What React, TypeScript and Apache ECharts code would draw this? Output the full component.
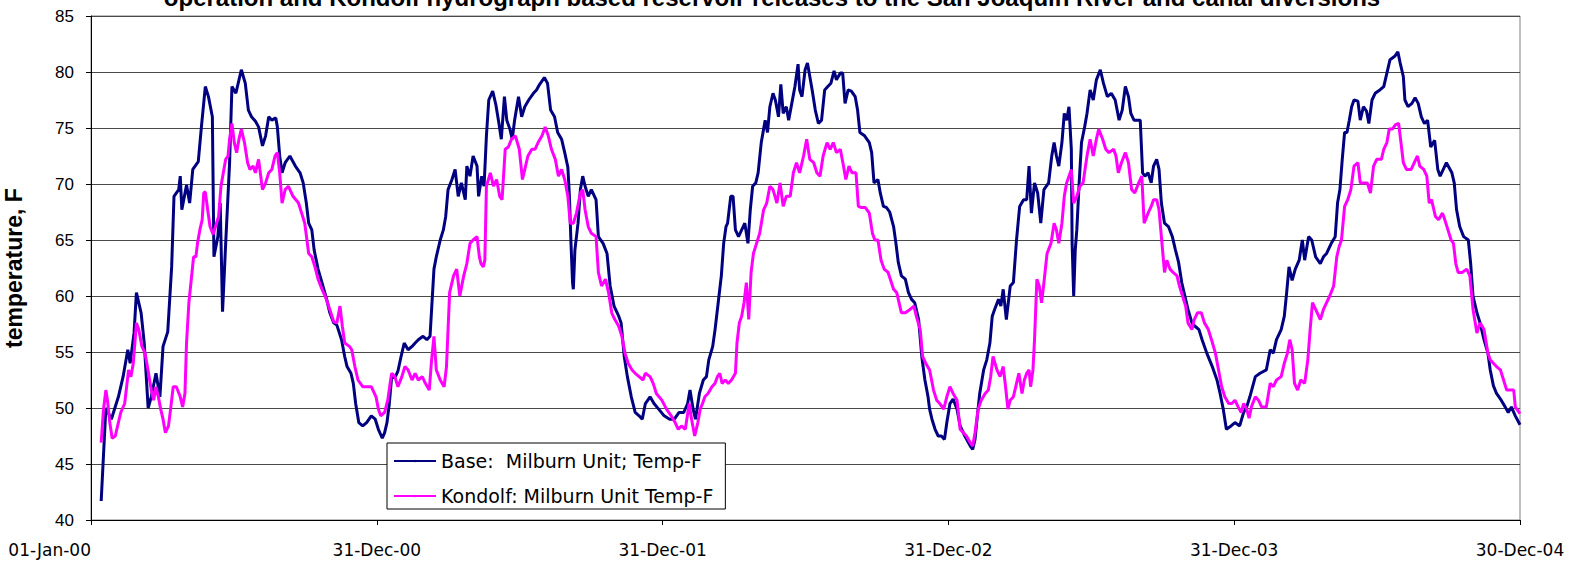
import React, { useEffect, useRef } from "react";
import * as echarts from "echarts";

const titleText =
  "operation and Kondolf hydrograph based reservoir releases to the San Joaquin River and canal diversions";
const yAxisName = "temperature, F";
const tickLabels = ["01-Jan-00", "31-Dec-00", "31-Dec-01", "31-Dec-02", "31-Dec-03", "30-Dec-04"];
const daysPerTick = 365;
const seriesNames = ["Base:  Milburn Unit; Temp-F", "Kondolf: Milburn Unit Temp-F"];

// [days since 01-Jan-00, temperature F]
const baseObs: number[][] = [
  [13,41.7],[19,50.0],[26,49.0],[35,51.0],[41,52.8],[47,55.2],[50,54.0],[55,56.7],[58,60.3],[64,58.5],[68,55.8],[73,50.0],[77,51.0],[83,53.1],[88,51.0],[92,55.5],[98,56.8],[103,62.6],[106,68.9],[112,69.5],[114,70.7],[116,67.7],[122,69.9],[126,68.3],[130,71.3],[137,72.0],[141,75.1],[146,78.7],[150,77.8],[155,76.0],[157,63.5],[162,65.3],[165,68.3],[168,58.6],[172,64.7],[177,71.9],[180,78.7],[185,78.1],[189,79.3],[192,80.2],[197,79.0],
  [201,76.6],[205,76.0],[210,75.6],[214,75.1],[219,73.4],[223,74.3],[227,76.0],[231,75.7],[236,75.9],[238,75.1],[241,72.5],[244,71.0],[248,71.9],[254,72.5],[261,71.6],[267,71.0],[271,70.1],[275,68.3],[278,66.5],[282,65.9],[285,64.1],[290,62.4],[295,61.2],[301,59.7],[305,58.5],[310,57.6],[314,57.4],[320,56.1],[324,54.6],[327,53.7],[332,53.1],[335,52.2],[338,50.4],[342,48.7],[347,48.4],[352,48.7],[358,49.3],[363,49.0],[367,48.1],[372,47.3],[375,47.8],[378,48.7],[381,50.4],[384,52.8],[388,52.7],[392,53.3],[396,54.6],[400,55.8],
  [405,55.2],[410,55.5],[414,55.8],[418,56.1],[424,56.4],[429,56.1],[433,56.4],[435,58.8],[438,62.4],[441,63.5],[446,65.0],[450,65.9],[453,67.1],[456,69.5],[461,70.4],[465,71.3],[469,68.9],[473,70.1],[478,68.6],[480,71.6],[484,70.7],[488,72.5],[493,71.6],[495,68.9],[499,70.7],[502,69.8],[505,74.3],[508,77.5],[513,78.3],[517,77.1],[521,75.4],[524,74.0],[528,77.8],[531,75.7],[535,74.9],[538,74.0],[541,75.7],[546,77.8],[550,76.0],[554,76.9],[559,77.5],[565,78.1],[569,78.4],[573,78.9],[579,79.5],[583,79.0],[587,76.6],[592,76.0],[596,74.6],[601,74.0],[605,72.8],
  [609,71.5],[611,68.9],[613,64.7],[615,61.2],[616,60.6],[618,64.1],[622,66.5],[625,69.5],[628,70.7],[631,69.8],[635,68.9],[639,69.5],[645,68.6],[648,65.3],[654,64.7],[659,63.8],[663,60.9],[668,59.1],[674,58.2],[677,57.6],[681,54.6],[685,52.8],[690,51.0],[695,49.6],[700,49.3],[704,49.0],[708,50.4],[714,51.0],[719,50.4],[725,49.9],[732,49.3],[739,49.0],[745,49.0],[751,49.6],[757,49.6],[762,50.4],[765,51.6],[769,49.9],[772,49.0],[777,51.3],[782,52.5],[786,52.8],[789,54.3],[794,55.5],[797,57.0],[801,59.4],[805,61.8],[808,64.7],[811,66.2],
  [813,66.5],[817,68.9],[820,68.9],[823,65.9],[827,65.3],[831,65.9],[835,66.5],[839,64.7],[842,67.7],[845,69.8],[849,70.1],[852,71.0],[856,73.7],[859,74.9],[861,75.7],[864,74.6],[867,76.9],[871,78.1],[874,77.5],[878,76.0],[881,78.9],[884,76.3],[888,76.9],[891,75.7],[895,77.2],[899,78.7],[903,80.7],[905,78.4],[908,77.8],[912,80.2],[915,80.8],[918,79.6],[921,78.4],[925,76.6],[929,75.4],[933,75.7],[937,78.4],[941,78.7],[945,79.0],[949,80.1],[952,79.3],[957,79.9],[960,79.9],[963,77.2],[967,78.4],[971,78.3],[976,77.8],[979,76.6],[982,74.6],[988,74.3],[994,73.7],[997,72.8],[1000,70.1],[1005,70.4],[1008,69.2],[1012,68.0],
  [1016,67.9],[1020,67.5],[1025,66.2],[1028,64.7],[1031,63.0],[1035,61.8],[1040,61.5],[1044,60.3],[1048,59.7],[1052,59.4],[1057,57.9],[1061,54.6],[1065,52.5],[1069,51.0],[1071,49.9],[1074,49.0],[1078,48.1],[1082,47.5],[1086,47.5],[1090,47.2],[1093,48.7],[1097,50.4],[1101,50.8],[1106,49.9],[1110,48.4],[1116,47.5],[1123,46.6],[1126,46.3],[1129,47.2],[1132,49.3],[1135,51.3],[1140,53.4],[1144,54.3],[1148,55.8],[1151,58.2],[1154,58.8],[1159,59.7],[1162,59.1],[1165,60.6],[1169,57.9],[1174,60.9],[1178,61.2],[1182,65.0],[1186,68.0],[1191,68.6],[1195,68.6],[1198,71.6],[1201,67.4],[1205,70.1],[1209,69.2],[1213,66.5],[1217,69.5],
  [1223,70.1],[1227,72.5],[1230,73.7],[1233,72.5],[1236,71.6],[1240,73.7],[1243,76.3],[1246,75.7],[1249,76.9],[1252,73.1],[1253,64.7],[1255,60.0],[1257,64.1],[1259,65.9],[1262,70.1],[1265,73.7],[1269,75.1],[1272,76.3],[1276,78.4],[1280,77.5],[1284,79.3],[1289,80.2],[1293,79.0],[1298,77.8],[1303,78.1],[1308,77.5],[1313,75.7],[1317,76.6],[1321,78.7],[1325,77.8],[1328,76.3],[1332,75.7],[1340,75.7],[1343,71.0],[1346,70.7],[1350,71.0],[1354,70.1],[1357,71.6],[1361,72.2],[1364,71.3],[1367,68.3],[1371,66.5],[1376,66.2],[1381,65.3],[1385,64.1],[1389,63.0],[1393,61.2],[1397,60.0],[1401,58.8],[1406,57.6],[1410,57.3],[1415,57.0],[1419,56.1],
  [1425,54.9],[1432,53.7],[1438,52.5],[1442,51.3],[1446,49.9],[1450,48.1],[1456,48.4],[1461,48.7],[1467,48.4],[1472,49.6],[1476,50.1],[1480,51.0],[1487,52.8],[1493,53.1],[1501,53.4],[1506,55.2],[1510,54.9],[1514,56.1],[1520,57.0],[1524,58.2],[1527,60.3],[1530,62.6],[1534,61.4],[1538,62.4],[1543,63.2],[1547,65.0],[1550,63.2],[1555,65.3],[1559,65.0],[1564,63.5],[1570,62.9],[1574,63.5],[1578,63.8],[1584,64.7],[1589,65.3],[1592,68.3],[1595,69.5],[1598,72.2],[1601,74.6],[1604,74.6],[1607,75.7],[1610,76.9],[1613,77.5],[1618,77.4],[1621,75.7],[1625,76.9],
  [1629,76.5],[1632,75.4],[1636,77.5],[1640,78.1],[1646,78.4],[1651,78.7],[1655,79.9],[1659,81.1],[1665,81.4],[1669,81.8],[1672,80.8],[1676,79.6],[1678,77.5],[1682,76.9],[1687,77.2],[1691,77.7],[1695,77.2],[1699,76.0],[1703,75.4],[1707,75.7],[1711,73.3],[1716,73.9],[1720,71.3],[1723,70.7],[1727,71.3],[1731,71.9],[1738,71.0],[1741,70.1],[1744,67.7],[1748,66.2],[1753,65.3],[1759,65.0],[1762,62.9],[1765,60.0],[1770,58.5],[1774,57.6],[1779,56.1],[1784,54.9],[1787,53.4],[1791,52.0],[1795,51.3],[1801,50.7],[1806,50.1],[1810,49.6],[1814,50.1],[1819,49.3],[1825,48.5]
];

const kondolfObs: number[][] = [
  [13,46.9],[16,49.9],[19,51.6],[21,50.7],[24,48.7],[27,47.3],[31,47.5],[34,48.4],[38,49.6],[43,50.4],[46,52.2],[48,53.4],[51,52.8],[54,54.0],[56,55.8],[58,57.6],[61,57.0],[65,55.5],[69,54.9],[72,53.7],[77,51.6],[80,50.7],[83,51.9],[86,51.0],[89,49.9],[92,49.0],[95,47.8],[99,48.4],[102,50.1],[105,51.9],[109,51.9],[114,51.0],[117,50.1],[120,51.3],[122,55.8],[125,59.4],[129,62.1],[131,63.5],[134,63.5],[136,64.7],[139,65.9],[142,66.8],[144,69.2],[146,69.3],[149,67.7],[152,66.2],[156,65.5],[159,66.2],[163,67.1],[166,69.8],[169,71.0],[172,72.2],[175,72.5],[177,74.0],[180,75.4],[183,73.7],[186,72.8],[189,74.0],[192,74.9],[196,73.7],
  [200,71.9],[203,71.3],[207,71.6],[210,71.0],[214,72.2],[219,69.5],[223,70.1],[227,71.0],[231,71.3],[235,72.5],[238,72.8],[241,71.0],[244,68.3],[248,69.5],[252,69.8],[258,68.9],[265,68.3],[269,67.4],[273,66.5],[278,63.8],[282,63.5],[286,62.6],[290,61.5],[295,60.6],[299,60.0],[305,58.8],[310,57.7],[314,57.6],[318,59.1],[321,57.3],[324,55.8],[330,55.5],[333,55.2],[337,53.7],[341,52.5],[347,51.9],[352,51.9],[358,51.9],[364,51.0],[367,49.9],[370,49.3],[375,49.6],[379,50.7],[382,52.2],[384,53.1],[388,52.8],[392,51.9],[397,52.8],[401,53.7],[405,53.4],
  [410,52.5],[414,53.1],[418,52.5],[423,52.8],[427,52.2],[432,51.6],[435,54.3],[438,56.4],[441,53.4],[446,52.5],[451,51.9],[454,53.7],[458,60.3],[463,61.8],[467,62.4],[471,60.0],[476,61.8],[480,62.9],[484,64.7],[488,65.0],[493,65.3],[496,63.5],[498,62.9],[501,62.6],[503,63.2],[505,69.8],[510,71.0],[514,69.8],[518,70.4],[522,68.9],[525,68.6],[529,73.1],[533,73.3],[537,74.0],[542,74.3],[547,73.1],[551,70.4],[554,71.3],[558,72.5],[563,73.1],[567,73.1],[571,73.7],[576,74.3],[580,75.1],[584,74.3],[588,73.1],[593,72.2],[597,70.7],[601,71.3],[605,70.4],
  [609,68.9],[612,66.5],[616,66.5],[620,67.4],[625,69.2],[628,69.5],[631,67.7],[635,66.2],[639,65.6],[645,65.3],[648,62.1],[652,60.9],[657,61.5],[661,60.3],[665,58.5],[669,57.9],[674,57.3],[678,56.4],[682,54.9],[686,54.0],[691,53.4],[695,53.1],[700,52.8],[705,52.5],[708,53.1],[714,52.8],[718,52.2],[722,51.3],[729,50.7],[735,49.9],[741,49.3],[746,48.7],[750,48.1],[754,48.4],[759,48.1],[764,50.4],[767,49.0],[771,47.5],[775,48.7],[778,49.9],[781,50.4],[784,51.0],[788,51.3],[793,51.9],[797,52.2],[800,52.8],[803,53.1],[806,52.2],[810,52.5],
  [814,52.2],[818,52.5],[823,53.1],[825,55.8],[828,57.6],[831,58.2],[834,59.4],[837,61.2],[840,57.9],[843,62.1],[846,63.8],[850,64.7],[854,65.6],[859,67.7],[863,68.3],[867,69.8],[871,69.5],[876,68.3],[880,70.1],[884,68.0],[888,68.9],[893,68.9],[897,71.0],[901,71.9],[905,71.0],[910,72.5],[914,74.0],[918,72.2],[923,71.9],[927,71.0],[931,70.7],[935,72.5],[940,73.7],[944,73.1],[948,73.7],[952,72.8],[957,73.1],[961,71.6],[964,70.4],[968,71.6],[972,71.0],[977,71.0],[980,68.0],[984,67.9],[989,67.9],[994,67.4],[998,65.6],[1001,65.0],[1005,65.0],[1009,63.2],[1013,62.4],[1018,62.1],
  [1025,60.6],[1029,60.3],[1033,59.1],[1035,58.5],[1040,58.5],[1046,58.8],[1051,59.1],[1054,58.2],[1059,57.0],[1062,54.6],[1066,54.0],[1071,53.4],[1076,51.6],[1080,50.7],[1084,50.4],[1089,49.9],[1093,51.0],[1097,51.9],[1101,51.3],[1106,50.7],[1110,48.1],[1114,47.8],[1118,47.5],[1123,46.9],[1126,46.6],[1129,47.8],[1133,49.9],[1137,50.7],[1142,51.3],[1146,51.6],[1149,52.8],[1152,54.6],[1157,53.4],[1161,52.8],[1165,53.7],[1168,51.9],[1171,49.9],[1174,50.7],[1178,51.0],[1182,52.2],[1185,53.1],[1189,51.3],[1192,52.5],[1195,53.1],[1198,53.4],[1200,51.9],[1203,53.4],[1205,56.1],[1208,61.5],[1211,60.9],[1214,59.4],[1217,61.2],
  [1221,63.8],[1226,64.7],[1230,66.5],[1233,65.9],[1236,64.7],[1240,66.5],[1243,68.9],[1246,70.1],[1249,70.7],[1252,71.3],[1255,68.3],[1259,68.9],[1263,69.8],[1267,70.1],[1272,72.5],[1276,74.0],[1280,72.5],[1284,74.0],[1287,74.9],[1292,74.0],[1296,73.1],[1300,72.8],[1306,73.1],[1309,72.5],[1312,71.0],[1316,71.9],[1321,72.8],[1325,71.9],[1329,69.5],[1333,69.2],[1338,70.1],[1342,70.7],[1345,66.5],[1350,67.4],[1354,68.0],[1357,68.6],[1361,68.6],[1364,67.7],[1367,65.3],[1371,62.1],[1374,63.2],[1378,62.4],[1382,62.1],[1387,61.8],[1390,60.9],[1394,60.0],[1398,59.1],[1401,57.6],[1406,57.0],[1409,57.9],[1413,58.5],[1418,58.5],[1422,57.6],
  [1427,57.0],[1431,56.1],[1436,54.9],[1440,53.4],[1444,51.9],[1448,51.0],[1453,50.4],[1457,50.4],[1461,50.7],[1465,50.1],[1469,49.6],[1472,50.4],[1476,49.9],[1479,49.1],[1482,50.1],[1487,51.0],[1491,50.7],[1495,50.1],[1501,50.1],[1506,52.2],[1510,51.9],[1514,52.5],[1520,52.8],[1524,54.0],[1528,54.9],[1531,56.1],[1534,55.2],[1537,52.2],[1541,51.6],[1545,52.5],[1550,52.2],[1554,54.3],[1557,57.0],[1560,59.4],[1564,58.8],[1570,57.9],[1574,58.8],[1578,59.4],[1582,60.0],[1587,60.9],[1591,63.5],[1594,64.4],[1597,65.0],[1601,68.0],[1605,68.6],[1609,69.5],[1613,71.6],[1618,71.9],[1621,70.1],[1625,70.1],
  [1630,70.1],[1634,69.2],[1638,71.6],[1642,72.2],[1648,72.2],[1651,73.1],[1655,73.7],[1658,74.9],[1662,74.9],[1666,75.3],[1670,75.4],[1673,73.7],[1676,71.9],[1680,71.3],[1686,71.3],[1690,71.9],[1694,72.5],[1697,71.6],[1702,71.3],[1706,70.7],[1709,68.3],[1712,68.6],[1717,67.1],[1721,66.8],[1726,67.4],[1729,66.8],[1733,65.9],[1737,65.0],[1740,64.7],[1743,62.9],[1746,62.1],[1751,62.1],[1757,62.4],[1761,61.8],[1765,58.8],[1770,56.7],[1774,57.6],[1779,57.0],[1784,54.9],[1787,54.3],[1791,54.0],[1795,53.7],[1800,53.4],[1804,52.5],[1808,51.6],[1812,51.6],[1817,51.6],[1819,50.1],[1825,49.5]
];

const FONT = "'Liberation Sans', Arial, Helvetica, sans-serif";
const WIDE_FONT = "'DejaVu Sans', 'Liberation Sans', Arial, sans-serif";

export default function App() {
  const ref = useRef<HTMLDivElement>(null);
  useEffect(() => {
    if (!ref.current) return;
    const chart = echarts.init(ref.current, undefined, { renderer: "svg" });
    const lastDay = daysPerTick * (tickLabels.length - 1);
    chart.setOption({
      animation: false,
      backgroundColor: "#ffffff",
      textStyle: { fontFamily: FONT },
      grid: {
        left: 91,
        right: 60,
        top: 16,
        bottom: 46,
        containLabel: false,
        outerBoundsMode: "none",
        show: true,
        borderColor: "#808080",
        borderWidth: 1,
        backgroundColor: "#ffffff",
      },
      graphic: [
        {
          type: "text",
          x: 772,
          y: -3,
          style: {
            text: titleText,
            fontFamily: FONT,
            fontWeight: "bold",
            fontSize: 24,
            fill: "#000",
            textAlign: "center",
            textVerticalAlign: "middle",
          },
        },
      ],
      legend: {
        left: 387,
        top: 443,
        orient: "vertical",
        backgroundColor: "#ffffff",
        borderColor: "#000000",
        borderWidth: 1,
        borderRadius: 0,
        padding: [8, 12, 3, 6],
        itemGap: 15,
        itemWidth: 42,
        itemHeight: 3,
        textStyle: { fontFamily: WIDE_FONT, fontSize: 19, color: "#000", lineHeight: 20 },
        data: seriesNames,
      },
      xAxis: {
        type: "value",
        min: 0,
        max: lastDay,
        interval: daysPerTick,
        axisLine: { show: true, lineStyle: { color: "#000", width: 1 } },
        axisTick: { show: true, length: 5, lineStyle: { color: "#000" } },
        splitLine: { show: false },
        axisLabel: {
          fontFamily: WIDE_FONT,
          fontSize: 17,
          color: "#000",
          margin: 21,
          alignMinLabel: "right",
          formatter: (v: number) => tickLabels[Math.round(v / daysPerTick)] ?? "",
        },
      },
      yAxis: {
        type: "value",
        min: 40,
        max: 85,
        interval: 5,
        name: yAxisName,
        nameLocation: "middle",
        nameGap: 66,
        nameRotate: 90,
        nameTextStyle: { fontFamily: FONT, fontWeight: "bold", fontSize: 23, color: "#000" },
        axisLine: { show: true, lineStyle: { color: "#000", width: 1 } },
        axisTick: { show: true, length: 5, lineStyle: { color: "#000" } },
        splitLine: { show: true, lineStyle: { color: "#4a4a4a", width: 1 } },
        axisLabel: { fontFamily: FONT, fontSize: 17, color: "#000", margin: 17 },
      },
      series: [
        {
          name: seriesNames[0],
          type: "line",
          data: baseObs,
          symbol: "none",
          lineStyle: { color: "#000080", width: 3 },
          itemStyle: { color: "#000080" },
        },
        {
          name: seriesNames[1],
          type: "line",
          data: kondolfObs,
          symbol: "none",
          lineStyle: { color: "#FF00FF", width: 3 },
          itemStyle: { color: "#FF00FF" },
        },
      ],
    });
    return () => chart.dispose();
  }, []);
  return (
    <div
      ref={ref}
      style={{ position: "absolute", left: 0, top: 0, width: 1580, height: 566, background: "#fff" }}
    />
  );
}
